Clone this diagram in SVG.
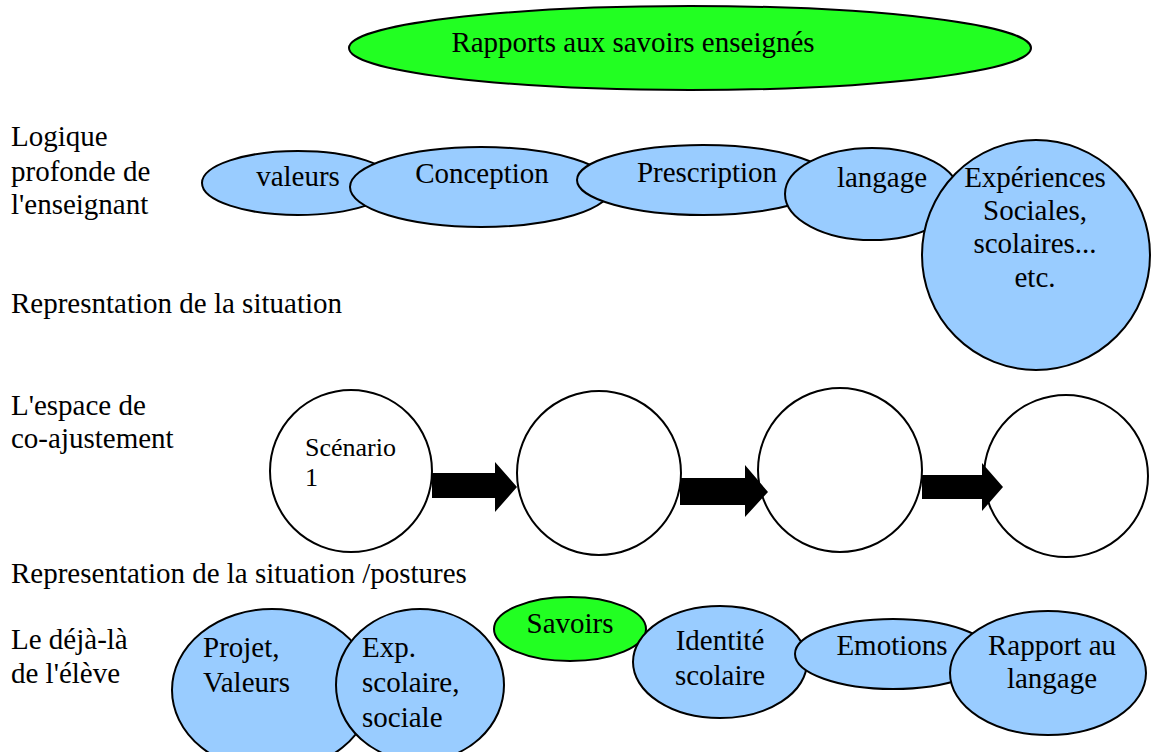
<svg xmlns="http://www.w3.org/2000/svg" width="1152" height="752" viewBox="0 0 1152 752">
<style>
text{font-family:"Liberation Serif","Times New Roman",serif;font-size:29px;fill:#000}
.c{text-anchor:middle}
.s{font-size:26px}
.blue{fill:#99ccff;stroke:#000;stroke-width:2}
.green{fill:#22ff22;stroke:#000;stroke-width:2}
.white{fill:#fff;stroke:#000;stroke-width:2}
.arrow{fill:#000}
</style>
<rect width="1152" height="752" fill="#fff"/>
<g id="labels">
<text x="11" y="146">Logique</text>
<text x="11" y="181">profonde de</text>
<text x="11" y="214">l'enseignant</text>
<text x="11" y="313">Represntation de la situation</text>
<text x="11" y="415">L'espace de</text>
<text x="11" y="448">co-ajustement</text>
<text x="11" y="583">Representation de la situation /postures</text>
<text x="11" y="649">Le déjà-là</text>
<text x="11" y="683">de l'élève</text>
</g>
<g id="rapports">
<ellipse class="green" cx="690" cy="48" rx="341" ry="42"/>
<text class="c" x="633" y="52">Rapports aux savoirs enseignés</text>
</g>
<g id="valeurs">
<ellipse class="blue" cx="298" cy="183" rx="96" ry="32"/>
<text class="c" x="298" y="186">valeurs</text>
</g>
<g id="conception">
<ellipse class="blue" cx="481" cy="187" rx="131" ry="40"/>
<text class="c" x="482" y="183">Conception</text>
</g>
<g id="prescription">
<ellipse class="blue" cx="703" cy="180" rx="126" ry="35"/>
<text class="c" x="707" y="182">Prescription</text>
</g>
<g id="langage">
<ellipse class="blue" cx="872" cy="194" rx="87" ry="46"/>
<text class="c" x="882" y="187">langage</text>
</g>
<g id="experiences">
<ellipse class="blue" cx="1036" cy="255" rx="114" ry="115"/>
<text class="c" x="1035" y="187">Expériences</text>
<text class="c" x="1035" y="220">Sociales,</text>
<text class="c" x="1035" y="253">scolaires...</text>
<text class="c" x="1035" y="287">etc.</text>
</g>
<g id="scenario1">
<circle class="white" cx="351" cy="471" r="81"/>
<text class="s" x="305" y="456">Scénario</text>
<text class="s" x="305" y="486">1</text>
</g>
<g id="scenario2">
<circle class="white" cx="599" cy="473" r="82"/>
</g>
<g id="scenario3">
<circle class="white" cx="840" cy="470" r="82"/>
</g>
<g id="scenario4">
<ellipse class="white" cx="1066" cy="476" rx="82" ry="81"/>
</g>
<g id="connectors">
<polygon class="arrow" points="432,473 495,473 495,462 517,487 495,512 495,498 432,498"/>
<polygon class="arrow" points="680,478 745,478 745,465 768,492 745,517 745,505 680,505"/>
<polygon class="arrow" points="922,475 982,475 982,463 1003,487 982,511 982,499 922,499"/>
</g>
<g id="projet">
<ellipse class="blue" cx="272" cy="690" rx="100" ry="81"/>
<text x="203" y="657">Projet,</text>
<text x="203" y="692">Valeurs</text>
</g>
<g id="exp">
<ellipse class="blue" cx="420" cy="685" rx="84" ry="76"/>
<text x="362" y="657">Exp.</text>
<text x="362" y="692">scolaire,</text>
<text x="362" y="727">sociale</text>
</g>
<g id="savoirs">
<ellipse class="green" cx="570" cy="629" rx="76" ry="32"/>
<text class="c" x="570" y="633">Savoirs</text>
</g>
<g id="identite">
<ellipse class="blue" cx="720" cy="662" rx="87" ry="56"/>
<text class="c" x="720" y="650">Identité</text>
<text class="c" x="720" y="685">scolaire</text>
</g>
<g id="emotions">
<ellipse class="blue" cx="893" cy="654" rx="98" ry="35"/>
<text class="c" x="892" y="655">Emotions</text>
</g>
<g id="rapport-langage">
<ellipse class="blue" cx="1048" cy="673" rx="98" ry="62"/>
<text class="c" x="1052" y="655">Rapport au</text>
<text class="c" x="1052" y="688">langage</text>
</g>
</svg>
